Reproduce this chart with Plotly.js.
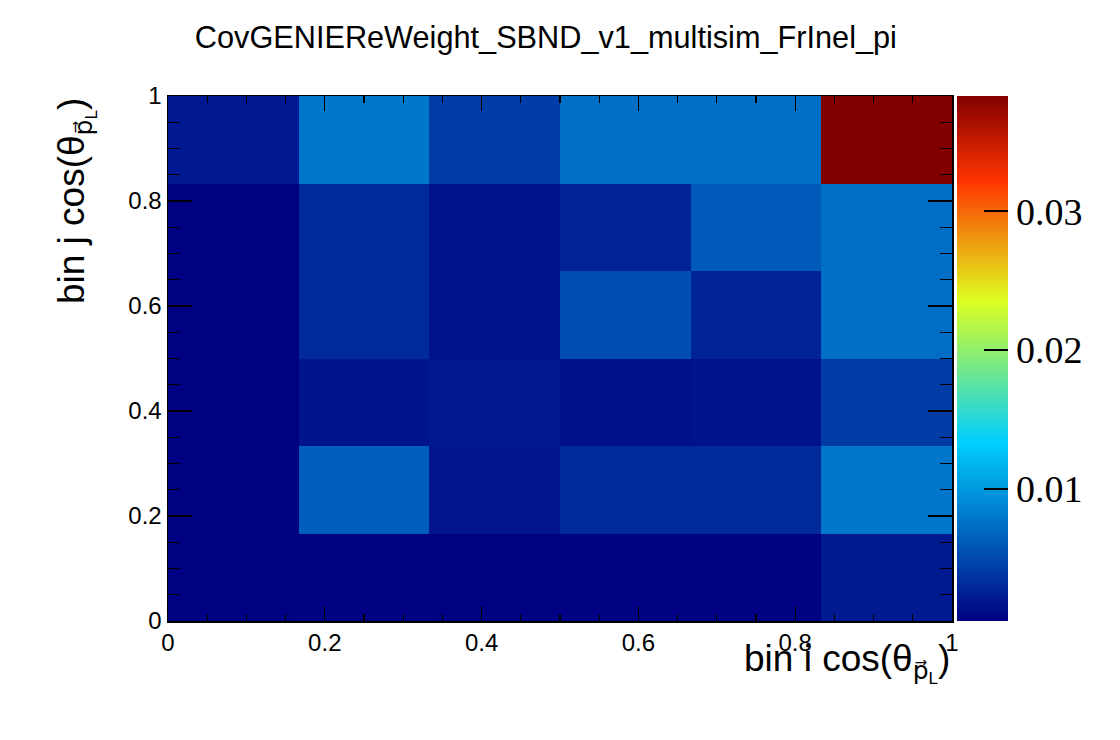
<!DOCTYPE html>
<html>
<head>
<meta charset="utf-8">
<script src="https://cdn.plot.ly/plotly-3.0.1.min.js"></script>
<style>html,body{margin:0;padding:0;background:#fff;}#chart{width:1120px;height:740px;}</style>
</head>
<body>
<div id="chart"></div>
<script>
// Bin edges (6x6 bins over [0,1])
var binEdgesX = [0, 1/6, 2/6, 3/6, 4/6, 5/6, 1];
var binEdgesY = [0, 1/6, 2/6, 3/6, 4/6, 5/6, 1];

// Covariance values, rows from bottom (bin j = 1) to top (bin j = 6)
var row1 = [0.0005, 0.0006, 0.0005, 0.0006, 0.0006, 0.0021];
var row2 = [0.0005, 0.0064, 0.0018, 0.0030, 0.0030, 0.0079];
var row3 = [0.0005, 0.0017, 0.0020, 0.0014, 0.0016, 0.0042];
var row4 = [0.0005, 0.0030, 0.0016, 0.0053, 0.0027, 0.0073];
var row5 = [0.0005, 0.0030, 0.0016, 0.0027, 0.0061, 0.0073];
var row6 = [0.0020, 0.0079, 0.0043, 0.0073, 0.0074, 0.0383];

var zMin = 0.00048;
var zMax = 0.0383;

var xTickVals = [0, 0.2, 0.4, 0.6, 0.8, 1];
var xTickText = ['0', '0.2', '0.4', '0.6', '0.8', '1'];
var yTickVals = [0, 0.2, 0.4, 0.6, 0.8, 1];
var yTickText = ['0', '0.2', '0.4', '0.6', '0.8', '1'];
var cbTickVals = [0.01, 0.02, 0.03];
var cbTickText = ['0.01', '0.02', '0.03'];

var titleText = 'CovGENIEReWeight_SBND_v1_multisim_FrInel_pi';
var pVec = '<span style="font-family:DejaVu Sans;font-size:25px">p\u20D7</span>';
var lSub = '<sub><span style="font-size:17px">L</span></sub>';
var xTitle = 'bin i cos(\u03B8<sub>' + pVec + lSub + '</sub>)';
var yTitle = 'bin j cos(\u03B8<sub>' + pVec + lSub + '</sub>)';

var colorscale = [
  [0.00, 'rgb(0,0,130)'],
  [0.34, 'rgb(0,207,255)'],
  [0.61, 'rgb(222,255,31)'],
  [0.84, 'rgb(255,51,0)'],
  [1.00, 'rgb(130,0,0)']
];

var sans = 'Liberation Sans, Arial, Helvetica, sans-serif';
var serif = 'Liberation Serif, Times New Roman, serif';

var trace = {
  type: 'heatmap',
  x: binEdgesX,
  y: binEdgesY,
  z: [row1, row2, row3, row4, row5, row6],
  zmin: zMin,
  zmax: zMax,
  colorscale: colorscale,
  xgap: 0, ygap: 0,
  hoverinfo: 'x+y+z',
  colorbar: {
    x: 1.0064, xanchor: 'left', xpad: 0,
    y: 0.5, yanchor: 'middle', ypad: 0,
    len: 1, lenmode: 'fraction',
    thickness: 51, thicknessmode: 'pixels',
    outlinewidth: 0,
    ticks: 'inside', ticklen: 24, tickwidth: 1.5, tickcolor: '#000',
    tickvals: cbTickVals, ticktext: cbTickText,
    tickfont: {family: serif, size: 38, color: '#000'},
    ticklabelposition: 'outside'
  }
};

var axisCommon = {
  range: [0, 1],
  showgrid: false,
  zeroline: false,
  showline: true,
  linecolor: '#000',
  linewidth: 1.5,
  mirror: 'ticks',
  ticks: 'inside',
  tickcolor: '#000',
  tickwidth: 1.2,
  tickfont: {family: sans, size: 24, color: '#000'}
};

var layout = {
  width: 1120, height: 740,
  paper_bgcolor: '#fff',
  plot_bgcolor: '#fff',
  margin: {l: 168, r: 168, t: 96, b: 119, pad: 0},
  title: {
    text: titleText,
    font: {family: sans, size: 30.7, color: '#000'},
    x: 0.482, xref: 'paper', xanchor: 'center',
    y: 0.949, yref: 'container', yanchor: 'middle'
  },
  xaxis: Object.assign({}, axisCommon, {
    tickvals: xTickVals, ticktext: xTickText,
    ticklen: 15,
    minor: {dtick: 0.05, tick0: 0, ticks: 'inside', ticklen: 7, tickcolor: '#000', tickwidth: 1.2}
  }),
  yaxis: Object.assign({}, axisCommon, {
    tickvals: yTickVals, ticktext: yTickText,
    ticklen: 24,
    minor: {dtick: 0.05, tick0: 0, ticks: 'inside', ticklen: 12, tickcolor: '#000', tickwidth: 1.2}
  }),
  annotations: [
    {
      text: xTitle, xref: 'paper', yref: 'paper',
      x: 1, y: -0.028, xanchor: 'right', yanchor: 'top',
      showarrow: false,
      font: {family: sans, size: 37, color: '#000'}
    },
    {
      text: yTitle, xref: 'paper', yref: 'paper',
      x: -0.1173, y: 1, xanchor: 'center', yanchor: 'top',
      textangle: -90,
      showarrow: false,
      font: {family: sans, size: 37, color: '#000'}
    }
  ],
  showlegend: false
};

Plotly.newPlot('chart', [trace], layout, {displayModeBar: false, staticPlot: true});
</script>
</body>
</html>
